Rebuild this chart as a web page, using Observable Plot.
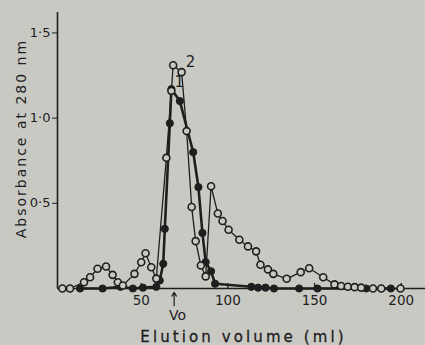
<!DOCTYPE html>
<html>
<head>
<meta charset="utf-8">
<script src="https://cdn.jsdelivr.net/npm/d3@7"></script>
<script src="https://cdn.jsdelivr.net/npm/@observablehq/plot@0.6"></script>
<style>
  html, body { margin: 0; padding: 0; background: #c9c9c4; }
  svg { display: block; }
</style>
</head>
<body>
<div id="chart"></div>
<script>
// Series 2 (open circles)
const volOpen = [4.5, 8.9, 17.0, 20.5, 24.8, 29.7, 33.5, 36.5, 39.4, 46.1, 50.0, 52.5, 55.8, 58.7, 64.5, 67.4, 68.4, 73.3, 76.2, 79.1, 81.4, 84.4, 87.2, 90.3, 94.2, 96.9, 100.4, 106.6, 111.6, 116.3, 118.8, 123.1, 126.2, 133.9, 142.0, 146.9, 155.0, 161.5, 165.3, 169.2, 173.1, 176.9, 183.7, 188.5, 199.6];
const absOpen = [0, 0, 0.037, 0.066, 0.116, 0.129, 0.08, 0.037, 0.018, 0.086, 0.154, 0.207, 0.125, 0.058, 0.767, 1.16, 1.31, 1.27, 0.924, 0.478, 0.278, 0.135, 0.071, 0.600, 0.440, 0.396, 0.345, 0.286, 0.247, 0.218, 0.139, 0.112, 0.086, 0.057, 0.096, 0.119, 0.066, 0.024, 0.015, 0.01, 0.008, 0.005, 0, 0, 0];
// Series 1 (filled circles)
const volFilled = [14.7, 27.7, 38.0, 45.2, 51.0, 58.7, 60.7, 62.7, 63.6, 66.5, 67.4, 72.3, 80.0, 83.0, 85.3, 87.2, 90.3, 92.6, 113.5, 117.4, 121.7, 126.6, 141.1, 151.7, 179.8, 194.0];
const absFilled = [0, 0, 0.01, 0, 0.005, 0.01, 0.047, 0.145, 0.35, 0.97, 1.17, 1.10, 0.80, 0.595, 0.326, 0.155, 0.101, 0.028, 0.01, 0.005, 0.005, 0, 0, 0, 0, 0];
// Axes
const xTicks = [50, 100, 150, 200];
const yTicks = [0.5, 1.0, 1.5];
const voidVolume = 69;
const seriesLabels = [{label: "2", x: 78.5, y: 1.33}, {label: "1", x: 72, y: 1.21}];
const xTitle = "Elution volume (ml)";
const yTitle = "Absorbance at 280 nm";

const open = volOpen.map((v, i) => ({v, a: absOpen[i]}));
const filled = volFilled.map((v, i) => ({v, a: absFilled[i]}));

const ink = "#1e1e1e";
const bg = "#c9c9c4";
const font = "DejaVu Sans, sans-serif";

const chart = Plot.plot({
  width: 425,
  height: 345,
  marginLeft: 57,
  marginRight: 0,
  marginTop: 12,
  marginBottom: 57,
  style: {background: bg, fontFamily: font, color: ink},
  x: {domain: [1.7, 214], axis: null},
  y: {domain: [0, 1.62], axis: null},
  marks: [
    Plot.ruleX([1.7], {stroke: ink, strokeWidth: 1.6}),
    Plot.ruleY([0], {stroke: ink, strokeWidth: 1.6}),
    Plot.ruleX(xTicks, {y1: 0, y2: 0.03, stroke: ink, strokeWidth: 1.3}),
    Plot.axisX({ticks: xTicks, tickSize: 0, tickPadding: 7, fontSize: 13.5, label: null, tickFormat: d => String(d), fill: ink}),
    Plot.axisY({ticks: yTicks, tickSize: 5, tickPadding: 2, fontSize: 13, label: null, tickFormat: d => d3.format(".1f")(d).replace(".", "·"), stroke: ink, fill: ink}),
    Plot.line(filled, {x: "v", y: "a", stroke: ink, strokeWidth: 2.6}),
    Plot.line(open, {x: "v", y: "a", stroke: ink, strokeWidth: 1.3}),
    Plot.dot(filled, {x: "v", y: "a", r: 3.6, fill: ink, stroke: ink, strokeWidth: 1}),
    Plot.dot(open, {x: "v", y: "a", r: 3.5, fill: bg, stroke: ink, strokeWidth: 1.6}),
    Plot.text(seriesLabels, {x: "x", y: "y", text: "label", fontSize: 15, fill: ink}),
    Plot.arrow([{x: voidVolume}], {x1: "x", x2: "x", y1: -0.1, y2: -0.022, stroke: ink, strokeWidth: 1.2, headLength: 6, clip: false}),
    Plot.text(["Vo"], {x: voidVolume + 2, y: -0.16, fontSize: 14, fill: ink, clip: false}),
    Plot.text([xTitle], {x: 109, y: -0.285, fontSize: 15, fill: ink, stroke: ink, strokeWidth: 0.3, textAnchor: "middle", clip: false}),
    Plot.text([yTitle], {frameAnchor: "left", dx: -36, y: 0.88, rotate: -90, textAnchor: "middle", fontSize: 14, fill: ink})
  ]
});
d3.select(chart).selectAll("text").filter(function() { return this.textContent === xTitle; }).style("letter-spacing", "3.1px");
d3.select(chart).selectAll("text").filter(function() { return this.textContent === yTitle; }).style("letter-spacing", "2px");
document.getElementById("chart").appendChild(chart);
</script>
</body>
</html>
